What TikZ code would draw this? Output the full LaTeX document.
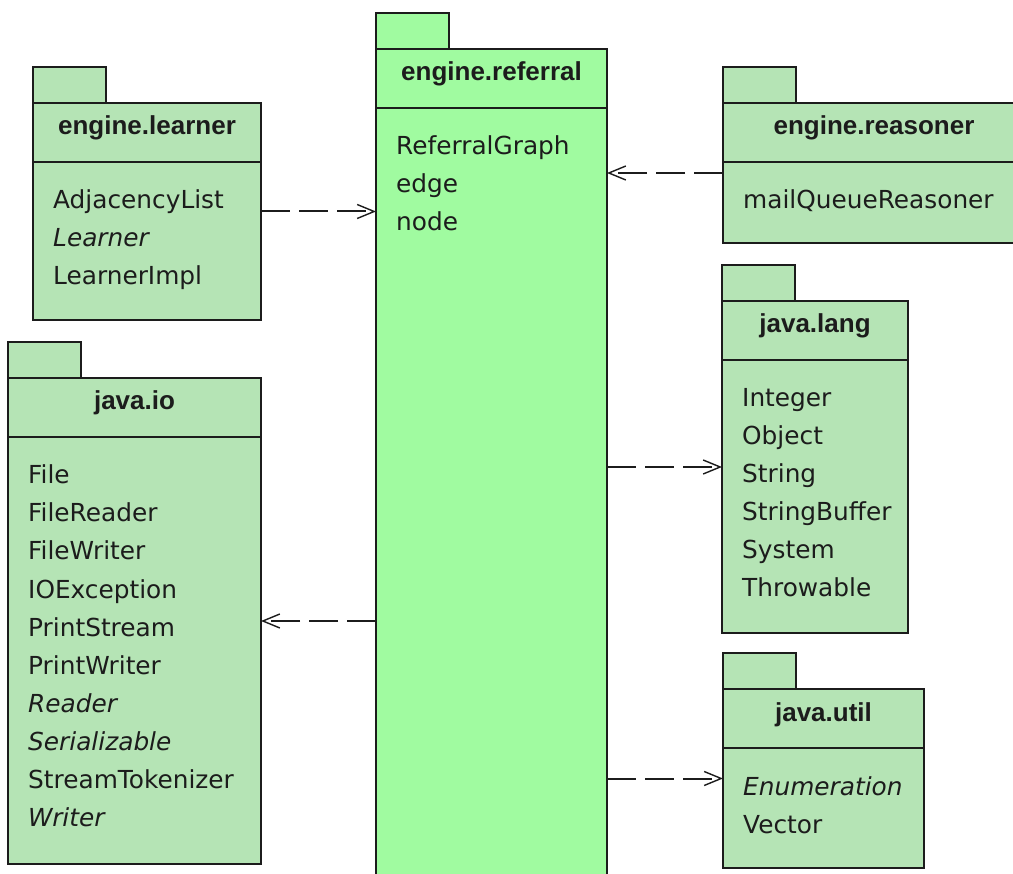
\documentclass[tikz,border=0pt]{standalone}
\usepackage{fontspec}
\setmainfont{DejaVu Sans}
\newfontfamily\headfont{Liberation Sans}
\usetikzlibrary{arrows.meta}
\definecolor{pkgfill}{RGB}{181,228,181}
\definecolor{mainfill}{RGB}{160,251,160}
\definecolor{ink}{RGB}{28,28,28}

% One UML package: tab, body, header rule, bold name and its entries.
% #1 node name, #2 x, #3 y (top left of the body), #4 width, #5 height,
% #6 fill colour, #7 package name, #8 entries
\newcommand\umlpkg[8]{%
  \draw[pkgline, fill=#6] (#2,#3) rectangle ++(73,-36);
  \node[pkgbody, fill=#6, minimum width=#4pt, minimum height=#5pt] (#1) at (#2,#3) {};
  \draw[pkgline] ([yshift=-59pt]#1.north west) -- ([yshift=-59pt]#1.north east);
  \node[pkgtitle] (#1-title) at ([yshift=-32pt]#1.north) {#7};
  \foreach \entry [count=\k from 0, evaluate=\k as \dy using 106+38*\k] in {#8}
    \node[pkgentry] (#1-entry-\k) at ([xshift=20pt,yshift=-\dy pt]#1.north west) {\entry};
}

\begin{document}
\begin{tikzpicture}[x=1pt,y=-1pt,
  pkgline/.style={draw=ink, line width=2pt},
  pkgbody/.style={pkgline, rectangle, inner sep=0pt, outer sep=0pt, anchor=north west},
  pkgtitle/.style={anchor=base, inner sep=0pt, text=ink,
    font=\headfont\bfseries\fontsize{26}{30}\selectfont},
  pkgentry/.style={anchor=base west, inner sep=0pt, text=ink,
    font=\fontsize{24.8}{30}\selectfont},
  dep/.style={draw=ink, line width=2pt, dash pattern=on 29pt off 9pt,
    -{Straight Barb[length=17pt,width=14pt,line width=1.4pt]}}]

\useasboundingbox (0,0) rectangle (1013,874);
\fill[white] (0,0) rectangle (1013,874);
\clip (0,0) rectangle (1013,874);

\umlpkg{referral}{376}{49}{231}{851}{mainfill}{engine.referral}
  {ReferralGraph, edge, node}
\umlpkg{learner}{33}{103}{228}{217}{pkgfill}{engine.learner}
  {AdjacencyList, \textit{Learner}, LearnerImpl}
\umlpkg{reasoner}{723}{103}{302}{140}{pkgfill}{engine.reasoner}
  {mailQueueReasoner}
\umlpkg{lang}{722}{301}{186}{332}{pkgfill}{java.lang}
  {Integer, Object, String, StringBuffer, System, Throwable}
\umlpkg{io}{8}{378}{253}{486}{pkgfill}{java.io}
  {File, FileReader, FileWriter, IOException, PrintStream, PrintWriter,
   \textit{Reader}, \textit{Serializable}, StreamTokenizer, \textit{Writer}}
\umlpkg{util}{723}{689}{201}{179}{pkgfill}{java.util}
  {\textit{Enumeration}, Vector}

% dependencies
\draw[dep] (learner.east) -- (learner.east -| referral.west);
\draw[dep] (reasoner.west) -- (reasoner.west -| referral.east);
\draw[dep] (lang.west -| referral.east) -- (lang.west);
\draw[dep] (io.east -| referral.west) -- (io.east);
\draw[dep] (util.west -| referral.east) -- (util.west);
\end{tikzpicture}
\end{document}
